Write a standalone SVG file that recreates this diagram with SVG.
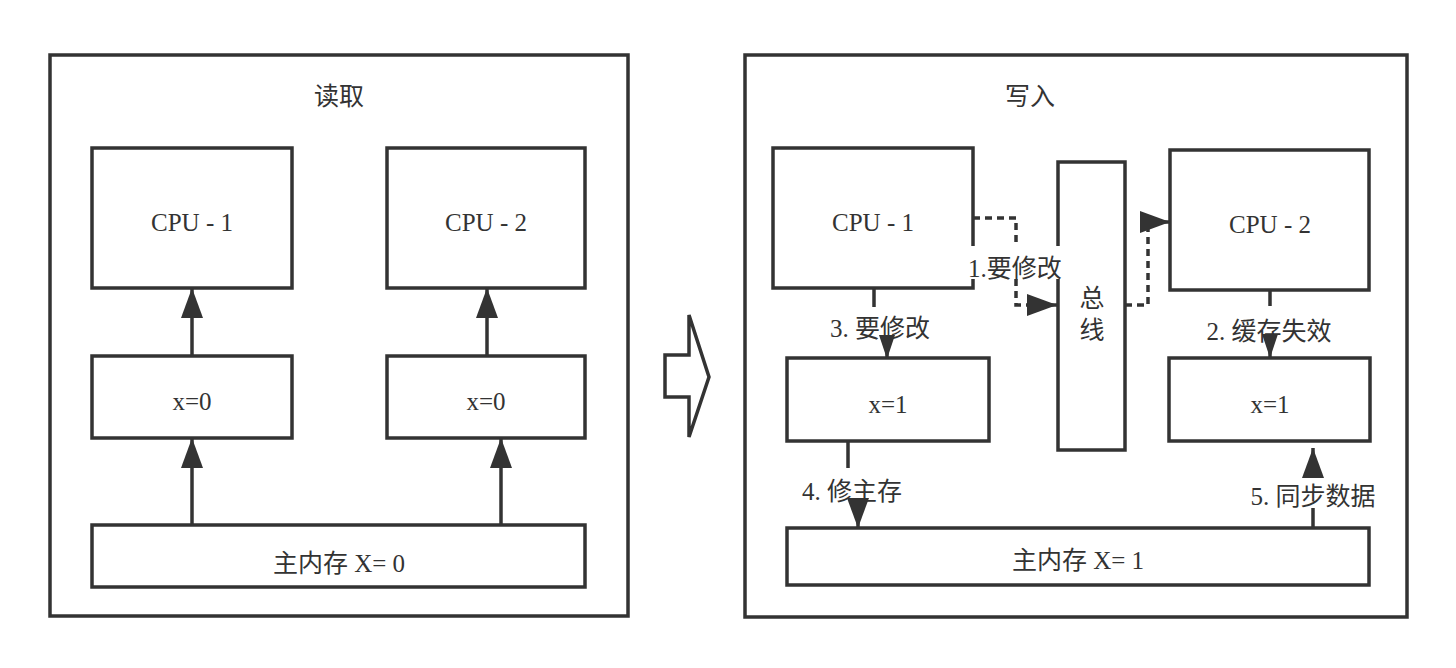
<svg xmlns="http://www.w3.org/2000/svg" width="1456" height="668" viewBox="0 0 1456 668">
<defs>
<style>
.box{fill:#fff;stroke:#333;stroke-width:3.5}
.t{font-family:"Liberation Serif","Noto Sans CJK SC",serif;font-size:25px;fill:#333;text-anchor:middle}
.ln{fill:none;stroke:#333;stroke-width:3.5}
.dot{fill:none;stroke:#333;stroke-width:3.5;stroke-dasharray:7 5}
</style>
<marker id="ah" markerUnits="userSpaceOnUse" markerWidth="32" markerHeight="24" refX="30" refY="11" orient="auto">
<path d="M0,0 L30,11 L0,22 Z" fill="#333"/>
</marker>
<marker id="as" markerUnits="userSpaceOnUse" markerWidth="26" markerHeight="18" refX="24" refY="8" orient="auto">
<path d="M0,0 L24,8 L0,16 Z" fill="#333"/>
</marker>
</defs>
<rect width="1456" height="668" fill="#fff"/>

<g id="read-frame">
<rect class="box" x="50" y="55" width="578" height="561"/>
<text class="t" x="339" y="105">读取</text>
</g>
<g id="read-cpu1"><rect class="box" x="92" y="148" width="200" height="140"/><text class="t" x="192" y="231">CPU - 1</text></g>
<g id="read-cpu2"><rect class="box" x="387" y="148" width="198" height="140"/><text class="t" x="486" y="231">CPU - 2</text></g>
<g id="read-cache1"><rect class="box" x="92" y="356" width="200" height="82"/><text class="t" x="192" y="410">x=0</text></g>
<g id="read-cache2"><rect class="box" x="387" y="356" width="198" height="82"/><text class="t" x="486" y="410">x=0</text></g>
<g id="read-mem"><rect class="box" x="92" y="525" width="493" height="62"/><text class="t" x="339" y="572">主内存 X= 0</text></g>

<g id="transition-arrow">
<polygon class="box" points="665,355 689,355 689,315 709,377 689,437 689,397 665,397"/>
</g>

<g id="write-frame">
<rect class="box" x="745" y="55" width="662" height="562"/>
<text class="t" x="1030" y="105">写入</text>
</g>
<g id="write-cpu1"><rect class="box" x="773" y="148" width="200" height="140"/><text class="t" x="873" y="231">CPU - 1</text></g>
<g id="write-bus"><rect class="box" x="1058" y="162" width="67" height="288"/><text class="t" x="1092" y="307">总</text><text class="t" x="1092" y="339">线</text></g>
<g id="write-cpu2"><rect class="box" x="1170" y="150" width="199" height="140"/><text class="t" x="1270" y="233">CPU - 2</text></g>
<g id="write-cache1"><rect class="box" x="787" y="358" width="202" height="83"/><text class="t" x="888" y="413">x=1</text></g>
<g id="write-cache2"><rect class="box" x="1169" y="358" width="201" height="83"/><text class="t" x="1270" y="413">x=1</text></g>
<g id="write-mem"><rect class="box" x="787" y="528" width="582" height="57"/><text class="t" x="1078" y="569">主内存 X= 1</text></g>

<g id="edge-labels">
<rect x="966" y="246" width="98" height="33" fill="#fff"/>
<text class="t" x="1015" y="277">1.要修改</text>
<text class="t" x="880" y="337">3. 要修改</text>
<text class="t" x="1269" y="340">2. 缓存失效</text>
<text class="t" x="852" y="500">4. 修主存</text>
<text class="t" x="1313" y="505">5. 同步数据</text>
</g>

<g id="connectors">
<path class="ln" d="M192,356 V288" marker-end="url(#ah)"/>
<path class="ln" d="M192,525 V438" marker-end="url(#ah)"/>
<path class="ln" d="M487,356 V288" marker-end="url(#ah)"/>
<path class="ln" d="M501,525 V438" marker-end="url(#ah)"/>
<path class="dot" d="M973,218 H1016 V246 M1016,279 V305 H1057" marker-end="url(#ah)"/>
<path class="dot" d="M1125,305 H1148 V222 H1170" marker-end="url(#ah)"/>
<path class="ln" d="M874,288 V307 M887,336 V359" marker-end="url(#as)"/>
<path class="ln" d="M1270,290 V306 M1270,334 V358" marker-end="url(#as)"/>
<path class="ln" d="M848,441 V468 M858,500 V528" marker-end="url(#ah)"/>
<path class="ln" d="M1313,528 V508 M1313,474 V448" marker-end="url(#ah)"/>
</g>
</svg>
